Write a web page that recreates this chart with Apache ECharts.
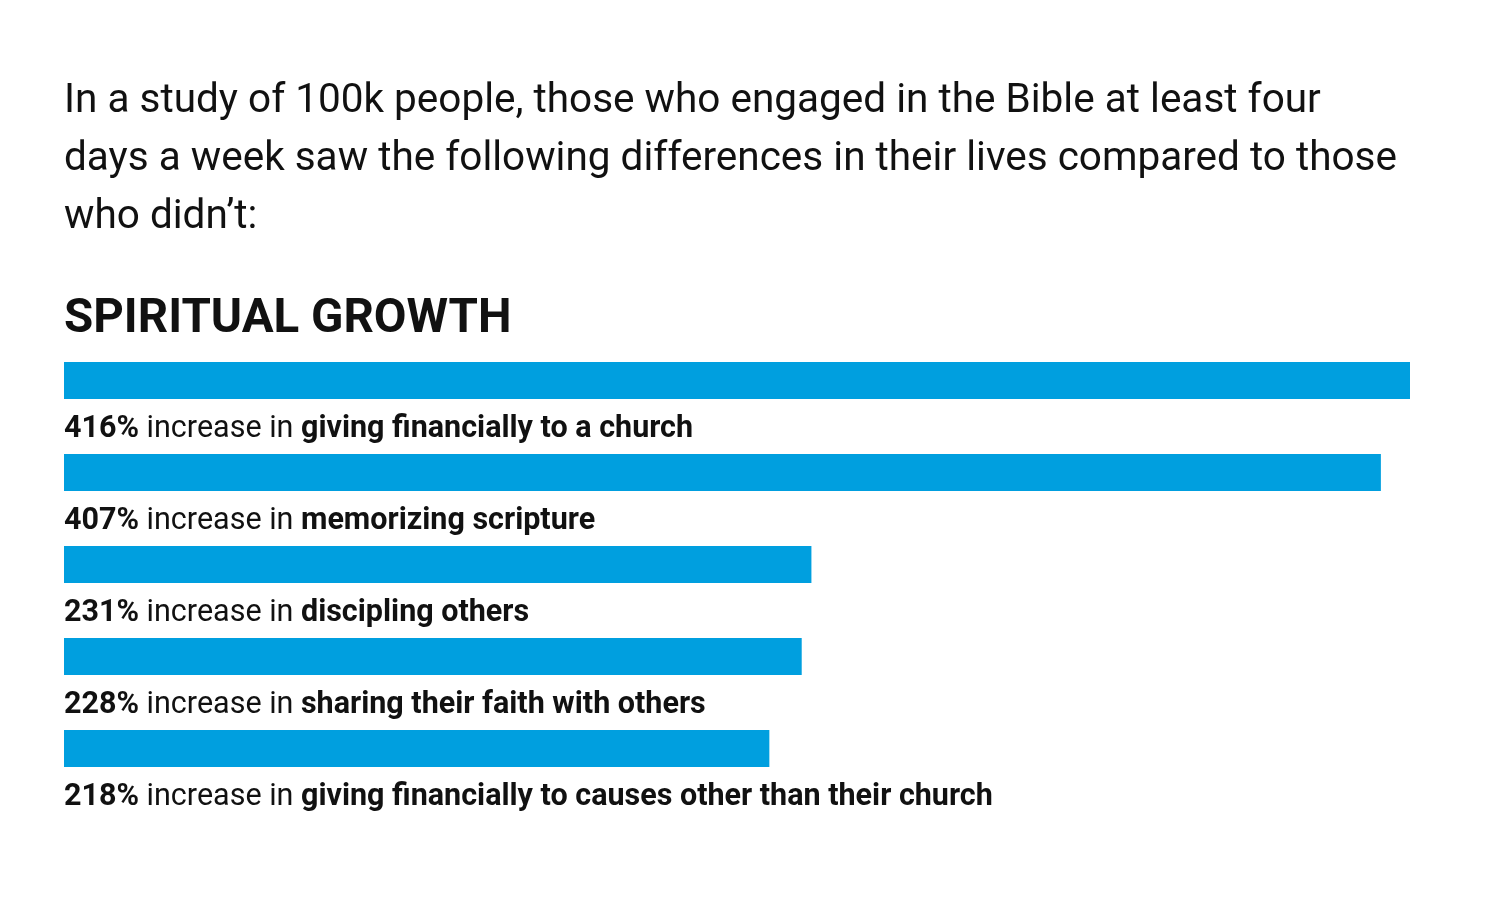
<!DOCTYPE html>
<html>
<head>
<meta charset="utf-8">
<script src="https://cdn.jsdelivr.net/npm/echarts@6/dist/echarts.min.js"></script>
<style>html,body{margin:0;padding:0;background:#fff;}#c{width:1500px;height:900px;}</style>
</head>
<body>
<div id="c"></div>
<script>
const introLines = [
  "In a study of 100k people, those who engaged in the Bible at least four",
  "days a week saw the following differences in their lives compared to those",
  "who didn\u2019t:"
];
const sectionTitle = "SPIRITUAL GROWTH";
const categories = [
  "giving financially to a church",
  "memorizing scripture",
  "discipling others",
  "sharing their faith with others",
  "giving financially to causes other than their church"
];
const values = [416, 407, 231, 228, 218];

const FONT = "Roboto";
const chart = echarts.init(document.getElementById('c'));
chart.setOption({
  backgroundColor: '#ffffff',
  animation: false,
  title: [
    {
      text: introLines.join('\n'),
      left: 59, top: 68,
      textStyle: { fontFamily: FONT, fontSize: 40.5, fontWeight: 'normal', color: '#111', lineHeight: 58 }
    },
    {
      text: sectionTitle,
      left: 59, top: 285,
      textStyle: { fontFamily: FONT, fontSize: 47.5, fontWeight: 'bold', color: '#111', lineHeight: 60 }
    }
  ],
  grid: { left: 64, right: 90, top: 334.5, height: 460, containLabel: false },
  xAxis: { type: 'value', min: 0, max: 416, show: false },
  yAxis: { type: 'category', data: categories, inverse: true, show: false },
  series: [{
    type: 'bar',
    data: values,
    barWidth: 37,
    itemStyle: { color: '#009FDF' },
    label: {
      show: true,
      position: 'insideLeft',
      distance: 0,
      offset: [0, 49],
      formatter: p => '{b|' + p.value + '%}{n| increase in }{b|' + p.name + '}',
      rich: {
        b: { fontFamily: FONT, fontSize: 30.5, fontWeight: 'bold', color: '#111' },
        n: { fontFamily: FONT, fontSize: 30.5, fontWeight: 'normal', color: '#111' }
      }
    }
  }]
});
</script>
</body>
</html>
